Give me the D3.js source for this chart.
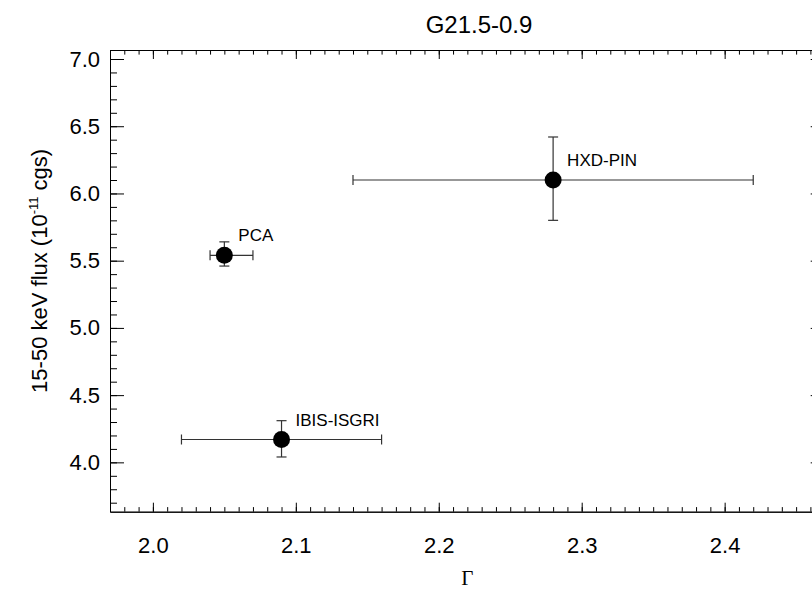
<!DOCTYPE html>
<html>
<head>
<meta charset="utf-8">
<script src="https://cdn.jsdelivr.net/npm/d3@7"></script>
<style>
  body { margin: 0; background: #fff; }
  svg { display: block; }
  text { font-family: "Liberation Sans", Arial, Helvetica, sans-serif; fill: #000; }
</style>
</head>
<body>
<div id="chart"></div>
<script>
const names = ["PCA", "HXD-PIN", "IBIS-ISGRI"];
const gamma = [2.05, 2.28, 2.09];
const gammaLo = [2.04, 2.14, 2.02];
const gammaHi = [2.07, 2.42, 2.16];
const flux = [5.54, 6.10, 4.17];
const fluxLo = [5.46, 5.80, 4.04];
const fluxHi = [5.64, 6.42, 4.31];

const xMajor = [2.0, 2.1, 2.2, 2.3, 2.4];
const yMajor = [4.0, 4.5, 5.0, 5.5, 6.0, 6.5, 7.0];

const width = 812;
const height = 591;
const margin = { left: 110, right: -12.7, top: 50, bottom: 79.3 };

const x = d3.scaleLinear().domain([1.97, 2.47])
    .range([margin.left, width - margin.right]);
const y = d3.scaleLinear().domain([3.633, 7.067])
    .range([height - margin.bottom, margin.top]);

const xMinor = d3.range(197, 248).map(d => d / 100);
const yMinor = d3.range(37, 71).map(d => d / 10);

const svg = d3.select("#chart").append("svg")
    .attr("width", width)
    .attr("height", height);

const x0 = x.range()[0], x1 = x.range()[1];
const y0 = y.range()[0], y1 = y.range()[1];

// ticks point inward on all four sides, IDL style
function axisGroup(axis, tr) {
    const g = svg.append("g").attr("transform", tr).call(axis);
    g.selectAll("line").attr("stroke", "#000");
    g.selectAll("path").attr("stroke", "#000");
    return g;
}

axisGroup(d3.axisBottom(x).tickValues(xMinor).tickSize(-4.6).tickSizeOuter(0).tickFormat(""),
    `translate(0,${y0})`);
axisGroup(d3.axisTop(x).tickValues(xMinor).tickSize(-4.6).tickSizeOuter(0).tickFormat(""),
    `translate(0,${y1})`);
axisGroup(d3.axisTop(x).tickValues(xMajor).tickSize(-9).tickSizeOuter(0).tickFormat(""),
    `translate(0,${y1})`);
const xAxis = axisGroup(d3.axisBottom(x).tickValues(xMajor).tickSize(-9).tickSizeOuter(0)
    .tickPadding(26).tickFormat(d3.format(".1f")), `translate(0,${y0})`);
xAxis.selectAll("text").attr("font-size", 22);

axisGroup(d3.axisLeft(y).tickValues(yMinor).tickSize(-7).tickSizeOuter(0).tickFormat(""),
    `translate(${x0},0)`);
axisGroup(d3.axisRight(y).tickValues(yMinor).tickSize(-7).tickSizeOuter(0).tickFormat(""),
    `translate(${x1},0)`);
axisGroup(d3.axisRight(y).tickValues(yMajor).tickSize(-14).tickSizeOuter(0).tickFormat(""),
    `translate(${x1},0)`);
const yAxis = axisGroup(d3.axisLeft(y).tickValues(yMajor).tickSize(-14).tickSizeOuter(0)
    .tickPadding(10).tickFormat(d3.format(".1f")), `translate(${x0},0)`);
yAxis.selectAll("text").attr("font-size", 22);

// error bars
const cap = 5;
const pts = svg.append("g").selectAll("g")
    .data(names.map((n, i) => i))
    .join("g");

pts.append("line")
    .attr("x1", i => x(gammaLo[i])).attr("x2", i => x(gammaHi[i]))
    .attr("y1", i => y(flux[i])).attr("y2", i => y(flux[i]))
    .attr("stroke", "#333").attr("stroke-width", 1.2);
pts.append("line")
    .attr("x1", i => x(gammaLo[i])).attr("x2", i => x(gammaLo[i]))
    .attr("y1", i => y(flux[i]) - cap).attr("y2", i => y(flux[i]) + cap)
    .attr("stroke", "#333").attr("stroke-width", 1.2);
pts.append("line")
    .attr("x1", i => x(gammaHi[i])).attr("x2", i => x(gammaHi[i]))
    .attr("y1", i => y(flux[i]) - cap).attr("y2", i => y(flux[i]) + cap)
    .attr("stroke", "#333").attr("stroke-width", 1.2);
pts.append("line")
    .attr("x1", i => x(gamma[i])).attr("x2", i => x(gamma[i]))
    .attr("y1", i => y(fluxLo[i])).attr("y2", i => y(fluxHi[i]))
    .attr("stroke", "#333").attr("stroke-width", 1.2);
pts.append("line")
    .attr("x1", i => x(gamma[i]) - cap).attr("x2", i => x(gamma[i]) + cap)
    .attr("y1", i => y(fluxLo[i])).attr("y2", i => y(fluxLo[i]))
    .attr("stroke", "#333").attr("stroke-width", 1.2);
pts.append("line")
    .attr("x1", i => x(gamma[i]) - cap).attr("x2", i => x(gamma[i]) + cap)
    .attr("y1", i => y(fluxHi[i])).attr("y2", i => y(fluxHi[i]))
    .attr("stroke", "#333").attr("stroke-width", 1.2);

pts.append("circle")
    .attr("cx", i => x(gamma[i]))
    .attr("cy", i => y(flux[i]))
    .attr("r", 8.5)
    .attr("fill", "#000");

pts.append("text")
    .attr("x", i => x(gamma[i]) + 14)
    .attr("y", i => y(flux[i]) - 14)
    .attr("font-size", 17)
    .text(i => names[i]);

// titles
svg.append("text")
    .attr("x", 479).attr("y", 33)
    .attr("text-anchor", "middle")
    .attr("font-size", 24)
    .text("G21.5-0.9");

svg.append("text")
    .attr("x", (x0 + x1) / 2).attr("y", 585)
    .attr("text-anchor", "middle")
    .attr("font-size", 21)
    .style("font-family", "'Liberation Serif', 'Times New Roman', serif")
    .text("Γ");

const yl = svg.append("text")
    .attr("transform", `translate(47,${(y0 + y1) / 2 - 10}) rotate(-90)`)
    .attr("text-anchor", "middle")
    .attr("font-size", 22);
yl.append("tspan").text("15-50 keV flux (10");
yl.append("tspan").attr("dy", -9).attr("font-size", 13).text("-11");
yl.append("tspan").attr("dy", 9).text(" cgs)");
</script>
</body>
</html>
